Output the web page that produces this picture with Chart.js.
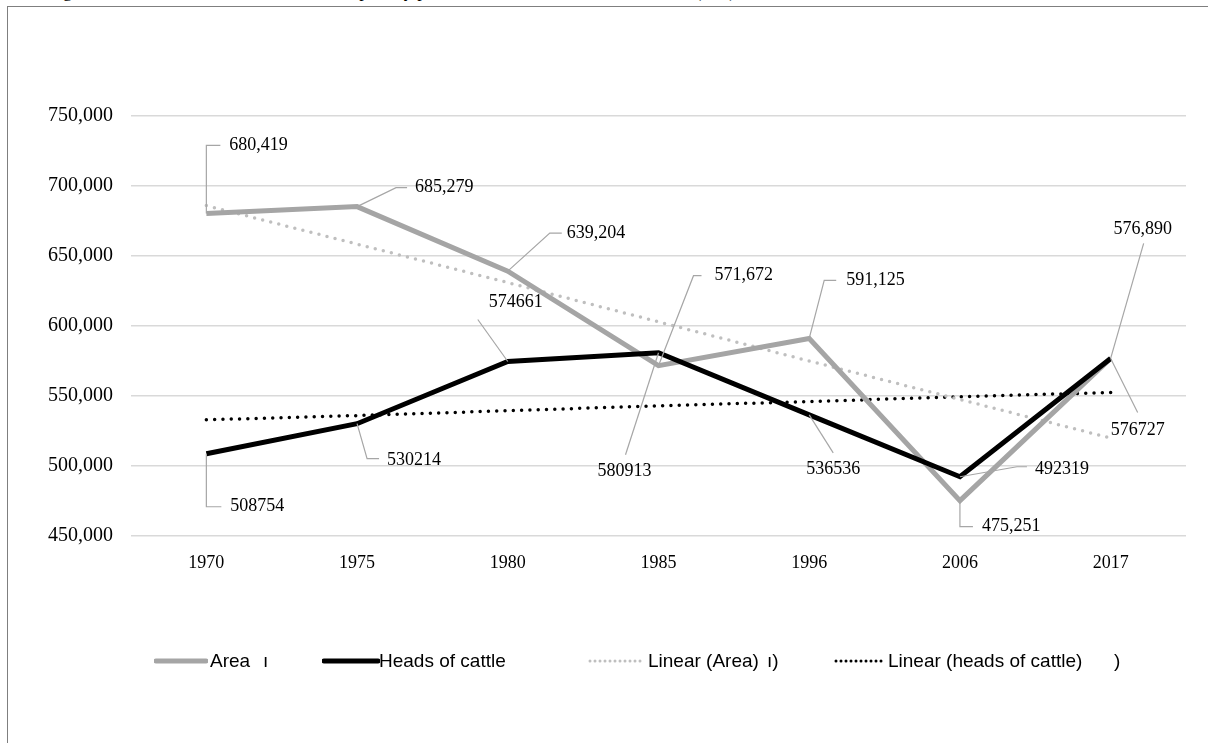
<!DOCTYPE html>
<html>
<head>
<meta charset="utf-8">
<script src="https://cdn.jsdelivr.net/npm/chart.js@4.4.1/dist/chart.umd.min.js"></script>
<style>
  html, body { margin: 0; padding: 0; background: #fff; overflow: hidden; }
  body { width: 1208px; height: 743px; position: relative; }
  #cap { position: absolute; left: 48px; top: -18px; font: 18px/18px "Liberation Serif", serif; white-space: nowrap; color: #000; }
  #frameTop { position: absolute; left: 7px; top: 5.5px; width: 1201px; height: 0; border-top: 1.5px solid #7f7f7f; }
  #frameLeft { position: absolute; left: 7px; top: 5.5px; width: 0; height: 740px; border-left: 1.5px solid #7f7f7f; }
  #chart { position: absolute; left: 0; top: 0; }
  .lg { position: absolute; top: 649px; font: 19px/24px "Liberation Sans", sans-serif; white-space: nowrap; color: #000; }
  .sw { position: absolute; top: 652px; }
</style>
</head>
<body>
<div id="cap">Figure 7. Interaction between the area occupied by pasture and the allocation of livestock (Has), in the</div>
<div id="frameTop"></div>
<div id="frameLeft"></div>
<canvas id="chart" width="1208" height="743"></canvas>

<!-- legend -->
<svg class="sw" style="left:154px" width="54" height="18"><line x1="2" y1="9" x2="52" y2="9" stroke="#a5a5a5" stroke-width="5" stroke-linecap="round"/></svg>
<span class="lg" style="left:210px">Area</span>
<span class="lg" style="left:263px">ı</span>
<svg class="sw" style="left:322px" width="58" height="18"><line x1="2" y1="9" x2="56" y2="9" stroke="#000" stroke-width="5" stroke-linecap="round"/></svg>
<span class="lg" style="left:379px">Heads of cattle</span>
<svg class="sw" style="left:588px" width="58" height="18"><line x1="2" y1="9" x2="56" y2="9" stroke="#bfbfbf" stroke-width="3" stroke-linecap="round" stroke-dasharray="0 5"/></svg>
<span class="lg" style="left:648px">Linear (Area)</span>
<span class="lg" style="left:767px">ı)</span>
<svg class="sw" style="left:834px" width="54" height="18"><line x1="2" y1="9" x2="52" y2="9" stroke="#000" stroke-width="3" stroke-linecap="round" stroke-dasharray="0 5"/></svg>
<span class="lg" style="left:888px">Linear (heads of cattle)</span>
<span class="lg" style="left:1114px">)</span>

<script>
// 数据
const years = ['1970', '1975', '1980', '1985', '1996', '2006', '2017'];
const area = [680419, 685279, 639204, 571672, 591125, 475251, 576890];
const cattle = [508754, 530214, 574661, 580913, 536536, 492319, 576727];
// trend lines
const areaTrend = [686000, 658500, 631000, 603000, 575000, 547500, 520000];
const cattleTrend = [533000, 536000, 539500, 543000, 546000, 549500, 552500];

// label placement relative to each point: e = elbow of leader, h = horizontal tail, t = text pos
const areaLabelPos = [
  { e: [0, -68], h: 14, t: [23, -68], a: 'left' },
  { e: [39, -19], h: 11, t: [58, -19], a: 'left' },
  { e: [42, -38], h: 12, t: [59, -38], a: 'left' },
  { e: [35, -90], h: 8, t: [56, -90], a: 'left' },
  { e: [15, -58], h: 12, t: [37, -58], a: 'left' },
  { e: [0, 26], h: 13, t: [22, 26], a: 'left' },
  { e: [33, -115], h: 0, t: [32, -129], a: 'center' }
];
const cattleLabelPos = [
  { e: [0, 53], h: 15, t: [24, 53], a: 'left' },
  { e: [10, 35], h: 12, t: [30, 37], a: 'left' },
  { e: [-30, -42], h: 0, t: [8, -59], a: 'center' },
  { e: [-33, 102], h: 0, t: [-34, 119], a: 'center' },
  { e: [24, 38], h: 0, t: [24, 54], a: 'center' },
  { e: [57, -10], h: 10, t: [75, -7], a: 'left' },
  { e: [27, 54], h: 0, t: [27, 72], a: 'center' }
];

const fmtComma = v => v.toLocaleString('en-US');

// 带引导线的数据标签
const leaderLabels = {
  id: 'leaderLabels',
  afterDatasetsDraw(chart) {
    const ctx = chart.ctx;
    const sets = [
      { idx: 0, pos: areaLabelPos, fmt: fmtComma },
      { idx: 1, pos: cattleLabelPos, fmt: v => String(v) }
    ];
    ctx.save();
    ctx.font = '18px "Liberation Serif", serif';
    ctx.textBaseline = 'middle';
    sets.forEach(s => {
      const meta = chart.getDatasetMeta(s.idx);
      const vals = chart.data.datasets[s.idx].data;
      meta.data.forEach((pt, i) => {
        const p = s.pos[i];
        const ex = pt.x + p.e[0], ey = pt.y + p.e[1];
        ctx.strokeStyle = '#a6a6a6';
        ctx.lineWidth = 1.2;
        ctx.beginPath();
        ctx.moveTo(pt.x, pt.y);
        ctx.lineTo(ex, ey);
        if (p.h) ctx.lineTo(ex + p.h, ey);
        ctx.stroke();
        ctx.fillStyle = '#000';
        ctx.textAlign = p.a;
        ctx.fillText(s.fmt(vals[i]), pt.x + p.t[0], pt.y + p.t[1]);
      });
    });
    ctx.restore();
  }
};

const serif = '"Liberation Serif", "Times New Roman", serif';

new Chart(document.getElementById('chart').getContext('2d'), {
  type: 'line',
  data: {
    labels: years,
    datasets: [
      { label: 'Area', data: area, borderColor: '#a5a5a5', borderWidth: 5, order: 2 },
      { label: 'Heads of cattle', data: cattle, borderColor: '#000', borderWidth: 5, order: 1 },
      { label: 'Linear (Area)', data: areaTrend, borderColor: '#bfbfbf', borderWidth: 3.5,
        borderDash: [0, 8.3], borderCapStyle: 'round', order: 3 },
      { label: 'Linear (heads of cattle)', data: cattleTrend, borderColor: '#000', borderWidth: 3.5,
        borderDash: [0, 8.3], borderCapStyle: 'round', order: 4 }
    ]
  },
  options: {
    responsive: false,
    animation: false,
    devicePixelRatio: 1,
    elements: { point: { radius: 0 }, line: { tension: 0, borderJoinStyle: 'miter' } },
    layout: { padding: { left: 0, top: 116, right: 22, bottom: 167 } },
    plugins: { legend: { display: false }, tooltip: { enabled: false } },
    scales: {
      x: {
        offset: true,
        grid: { display: false },
        border: { display: false },
        ticks: { color: '#000', font: { family: serif, size: 18 }, padding: 8 },
        afterFit(s) { s.height = 40; }
      },
      y: {
        min: 450000,
        max: 750000,
        grid: { color: '#d9d9d9', lineWidth: 1.5, drawTicks: false },
        border: { display: false },
        ticks: { stepSize: 50000, color: '#000', font: { family: serif, size: 20 }, padding: 18,
          callback: v => fmtComma(v) },
        afterFit(s) { s.width = 131; }
      }
    }
  },
  plugins: [leaderLabels]
});
</script>
</body>
</html>
